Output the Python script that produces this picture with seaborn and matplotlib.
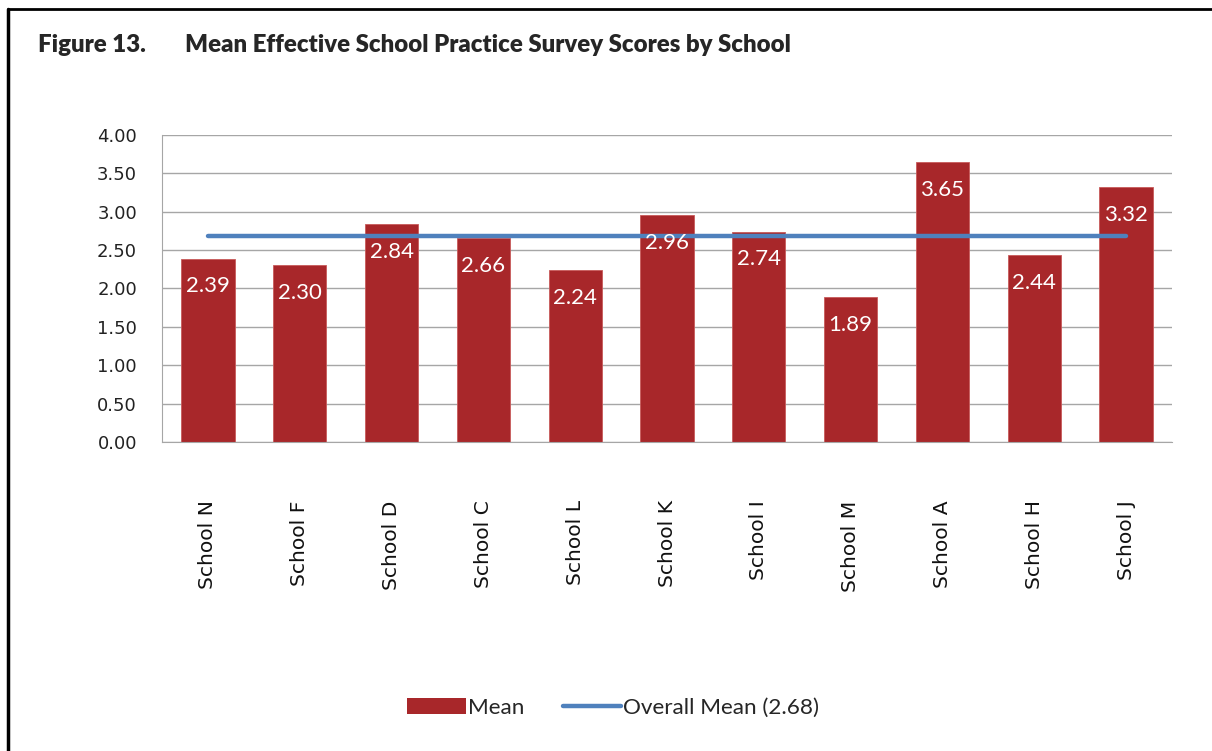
import numpy as np
import pandas as pd
import matplotlib
matplotlib.use("Agg")
import matplotlib.pyplot as plt
from matplotlib.lines import Line2D
from matplotlib.patches import Patch
import seaborn as sns

# data
schools = ["School N", "School F", "School D", "School C", "School L", "School K",
           "School I", "School M", "School A", "School H", "School J"]
means = [2.39, 2.30, 2.84, 2.66, 2.24, 2.96, 2.74, 1.89, 3.65, 2.44, 3.32]
overall_mean = 2.68

bar_color = "#A8272A"
line_color = "#4F81BD"

sns.set_style("white")
plt.rcParams['font.family'] = ['DejaVu Sans']

df = pd.DataFrame({'school': schools, 'mean': means})

fig = plt.figure(figsize=(12.12, 7.51), dpi=100)
ax = fig.add_axes([0.1337, 0.4115, 0.967 - 0.1337, 0.8202 - 0.4115])

sns.barplot(data=df, x='school', y='mean', color=bar_color, saturation=1,
            width=0.58, ax=ax, zorder=2)
for p in ax.patches:
    p.set_edgecolor("#c85a5a")
    p.set_linewidth(0.6)

# overall mean line from first to last category
xs = np.arange(len(schools))
sns.lineplot(x=xs, y=[overall_mean] * len(schools), color=line_color,
             linewidth=3.2, ax=ax, zorder=3, solid_capstyle='round')

# value labels inside the bars
for i, v in enumerate(means):
    ax.annotate(f"{v:.2f}", (i, v), xytext=(0, -20), textcoords='offset points',
                ha='center', va='center', color='white', fontsize=16,
                family='Lato', zorder=4)

ax.set_ylim(0, 4)
ax.set_xlim(-0.5, len(schools) - 0.5)
ax.set_yticks(np.arange(0, 4.01, 0.5))
ax.set_yticklabels([f"{t:.2f}" for t in np.arange(0, 4.01, 0.5)], fontsize=13, color='#222222')
ax.yaxis.grid(True, color='#a6a6a6', linewidth=1)
ax.set_axisbelow(True)
ax.tick_params(axis='y', length=0, pad=18)
ax.tick_params(axis='x', length=0, pad=42)
plt.setp(ax.get_xticklabels(), rotation=90, fontsize=14.6, color='#111111', va='top')
ax.set_xlabel("")
ax.set_ylabel("")
for s in ['top', 'right']:
    ax.spines[s].set_visible(False)
ax.spines['left'].set_color('#a6a6a6')
ax.spines['bottom'].set_color('#a6a6a6')

# title
fig.text(0.031, 0.94, "Figure 13.", fontsize=17.3, fontweight='heavy', family='Lato', va='center')
fig.text(0.153, 0.94, "Mean Effective School Practice Survey Scores by School",
         fontsize=17.3, fontweight='heavy', family='Lato', va='center')

# legend
handles = [Patch(facecolor=bar_color, edgecolor='none'),
           Line2D([0], [0], color=line_color, linewidth=3.2)]
fig.legend(handles, ["Mean", "Overall Mean (2.68)"], loc='center',
           bbox_to_anchor=(0.506, 0.057), ncol=2, frameon=False,
           prop={'family': 'Lato', 'size': 16.2}, handlelength=2.6, handleheight=0.7,
           handletextpad=0.1, columnspacing=1.7)

# page frame
fig.add_artist(Line2D([0.007, 1.0], [0.988, 0.988], color='black', linewidth=2,
                      transform=fig.transFigure))
fig.add_artist(Line2D([0.007, 0.007], [0.0, 0.988], color='black', linewidth=2.5,
                      transform=fig.transFigure))

fig.savefig("out.png", dpi=100, facecolor='white')
